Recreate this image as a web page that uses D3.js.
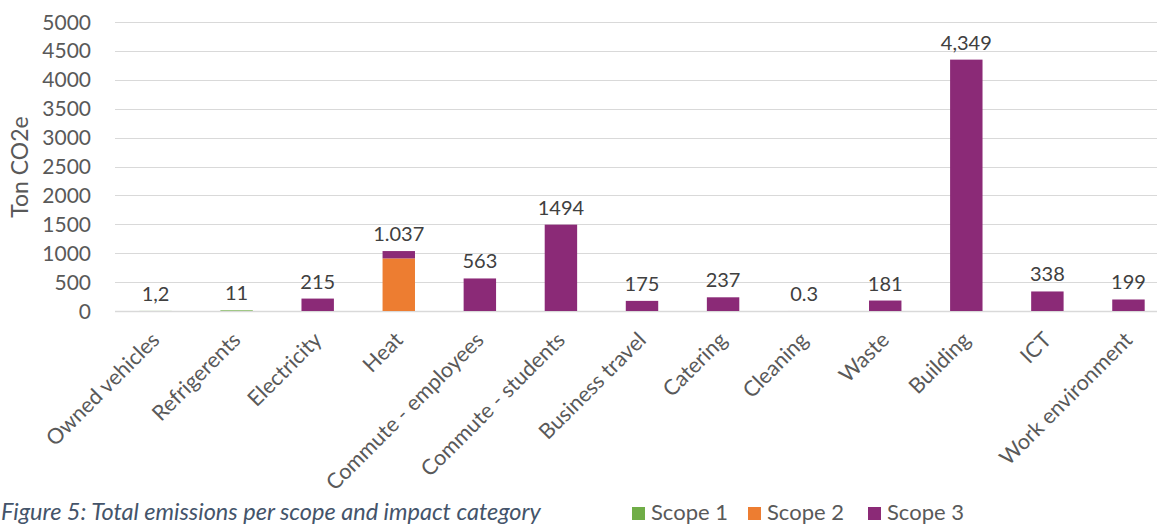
<!DOCTYPE html>
<html>
<head>
<meta charset="utf-8">
<script src="https://cdn.jsdelivr.net/npm/d3@7"></script>
<style>
	body { margin: 0; background: #fff; }
	svg { display: block; font-family: Lato, "Open Sans", sans-serif; }
</style>
</head>
<body>
<div id="chart"></div>
<script>
// categories and values
const categories = ["Owned vehicles", "Refrigerents", "Electricity", "Heat", "Commute - employees", "Commute - students",
	"Business travel", "Catering", "Cleaning", "Waste", "Building", "ICT", "Work environment"];
const scope1 = [1.2, 11, 0, 0, 0, 0, 0, 0, 0, 0, 0, 0, 0];
const scope2 = [0, 0, 0, 910, 0, 0, 0, 0, 0, 0, 0, 0, 0];
const scope3 = [0, 0, 215, 127, 563, 1494, 175, 237, 0.3, 181, 4349, 338, 199];
const valueLabels = ["1,2", "11", "215", "1.037", "563", "1494", "175", "237", "0.3", "181", "4,349", "338", "199"];
const yTicks = [0, 500, 1000, 1500, 2000, 2500, 3000, 3500, 4000, 4500, 5000];
const seriesNames = ["Scope 1", "Scope 2", "Scope 3"];
const seriesColors = ["#70ad47", "#ed7d31", "#8b2a77"];

const W = 1157, H = 524;
const plot = { left: 115, right: 1169, top: 22, bottom: 311 };

const svg = d3.select("#chart").append("svg").attr("width", W).attr("height", H);

const x = d3.scaleBand().domain(categories).range([plot.left, plot.right]).paddingInner(0.6).paddingOuter(0.3);
const y = d3.scaleLinear().domain([0, 5000]).range([plot.bottom, plot.top]);

// gridlines
svg.append("g")
	.selectAll("line")
	.data(yTicks)
	.join("line")
	.attr("x1", plot.left)
	.attr("x2", W)
	.attr("y1", (d) => Math.round(y(d)) + 0.5)
	.attr("y2", (d) => Math.round(y(d)) + 0.5)
	.attr("stroke", "#d9d9d9")
	.attr("stroke-width", (d) => (d === 0 ? 1.5 : 1));

// y tick labels
svg.append("g")
	.selectAll("text")
	.data(yTicks)
	.join("text")
	.attr("x", 91)
	.attr("y", (d) => y(d))
	.attr("dy", "0.36em")
	.attr("text-anchor", "end")
	.attr("font-size", 21)
	.attr("fill", "#595959")
	.text((d) => d);

// y axis title
svg.append("text")
	.attr("transform", "translate(28,167) rotate(-90)")
	.attr("text-anchor", "middle")
	.attr("font-size", 23)
	.attr("fill", "#595959")
	.text("Ton CO2e");

// stacked bars
const rows = categories.map((c, i) => ({ cat: c, s1: scope1[i], s2: scope2[i], s3: scope3[i] }));
const stack = d3.stack().keys(["s1", "s2", "s3"])(rows);

svg.append("g")
	.selectAll("g")
	.data(stack)
	.join("g")
	.attr("fill", (d, i) => seriesColors[i])
	.selectAll("rect")
	.data((d) => d)
	.join("rect")
	.attr("x", (d) => x(d.data.cat))
	.attr("width", x.bandwidth())
	.attr("y", (d) => y(d[1]))
	.attr("height", (d) => y(d[0]) - y(d[1]));

// value labels above bars
svg.append("g")
	.selectAll("text")
	.data(rows)
	.join("text")
	.attr("x", (d) => x(d.cat) + x.bandwidth() / 2)
	.attr("y", (d) => y(d.s1 + d.s2 + d.s3) - 10)
	.attr("text-anchor", "middle")
	.attr("font-size", 20)
	.attr("fill", "#404040")
	.text((d, i) => valueLabels[i]);

// category labels, rotated like Excel's -45° axis labels
svg.append("g")
	.selectAll("text")
	.data(categories)
	.join("text")
	.attr("transform", (d) => `translate(${x(d) + x.bandwidth() / 2},336) rotate(-45)`)
	.attr("text-anchor", "end")
	.attr("dy", "0.35em")
	.attr("font-size", 21.5)
	.attr("fill", "#595959")
	.text((d) => d);

// caption
svg.append("text")
	.attr("x", 1)
	.attr("y", 520)
	.attr("font-size", 23.5)
	.attr("font-style", "italic")
	.attr("fill", "#44546a")
	.text("Figure 5: Total emissions per scope and impact category");

// legend
const legendX = [632, 748, 868];
const legend = svg.append("g")
	.selectAll("g")
	.data(seriesNames)
	.join("g")
	.attr("transform", (d, i) => `translate(${legendX[i]},507)`);
legend.append("rect").attr("width", 13).attr("height", 13).attr("fill", (d, i) => seriesColors[i]);
legend.append("text")
	.attr("x", 19)
	.attr("y", 13)
	.attr("font-size", 22)
	.attr("fill", "#595959")
	.text((d) => d);
</script>
</body>
</html>
